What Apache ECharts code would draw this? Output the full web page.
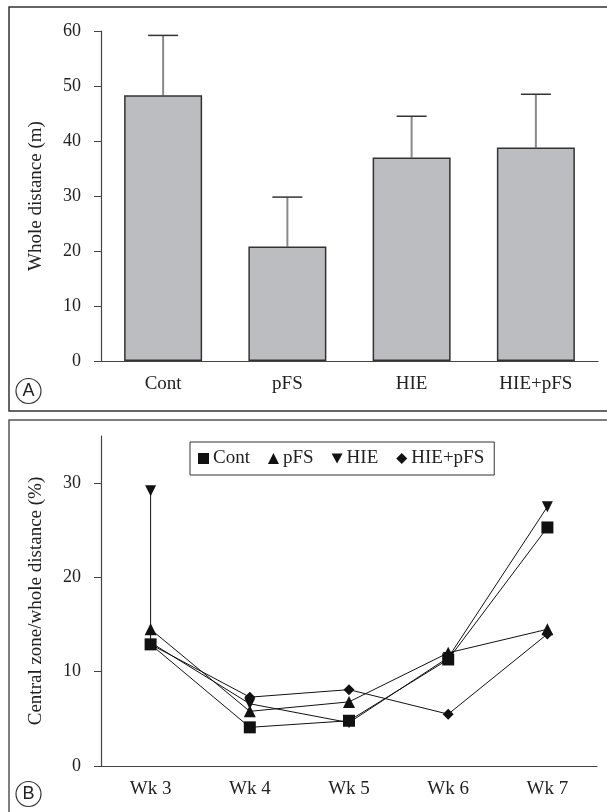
<!DOCTYPE html>
<html>
<head>
<meta charset="utf-8">
<script src="https://cdn.jsdelivr.net/npm/echarts@6/dist/echarts.min.js"></script>
<style>html,body{margin:0;padding:0;background:#fff}#c{width:607px;height:812px}</style>
</head>
<body>
<div id="c"></div>
<script>
// Panel A data
const groups = ['Cont', 'pFS', 'HIE', 'HIE+pFS'];
const meanDistance = [48.3, 20.8, 37.0, 38.8];
const errTop = [59.2, 29.8, 44.5, 48.5];
const yTicksA = [0, 10, 20, 30, 40, 50, 60];

// Panel B data
const weeks = ['Wk 3', 'Wk 4', 'Wk 5', 'Wk 6', 'Wk 7'];
const contVals = [12.9, 4.1, 4.8, 11.3, 25.3];
const pfsVals = [14.5, 5.8, 6.8, 12.0, 14.5];
const hieVals = [29.2, 6.6, 4.6, 11.5, 27.5];
const hieWk3Low = 13.1;
const hiePfsVals = [12.9, 7.3, 8.1, 5.5, 14.0];
const yTicksB = [0, 10, 20, 30];

const FONT = 'Liberation Serif';
const txt = '#222';
const axisCol = '#444';

const chart = echarts.init(document.getElementById('c'), null, {renderer: 'canvas'});

const hieData = [['Wk 3', hieVals[0]], {value: ['Wk 3', hieWk3Low], symbol: 'none'}]
  .concat(weeks.slice(1).map((w, i) => [w, hieVals[i + 1]]));

function lineSeries(name, data, symbol, size) {
  return {
    type: 'line', name: name, xAxisIndex: 1, yAxisIndex: 1,
    data: data, symbol: symbol, symbolSize: size,
    lineStyle: {color: '#111', width: 1},
    itemStyle: {color: '#111'},
    showAllSymbol: true, animation: false, z: 3
  };
}
const downTri = 'path://M0,0 L10,0 L5,9 Z';

chart.setOption({
  animation: false,
  textStyle: {fontFamily: FONT},
  grid: [
    {left: 101, right: 9, top: 31, bottom: 812 - 361},
    {left: 101, right: 10, top: 436, bottom: 812 - 766}
  ],
  legend: {
    left: 190, top: 442,
    data: [
      {name: 'Cont', icon: 'rect'},
      {name: 'pFS', icon: 'triangle'},
      {name: 'HIE', icon: downTri},
      {name: 'HIE+pFS', icon: 'diamond'}
    ],
    itemWidth: 11, itemHeight: 11, itemGap: 18,
    padding: [7, 10, 7, 8],
    borderColor: '#333', borderWidth: 1,
    textStyle: {fontFamily: FONT, fontSize: 19, color: txt, padding: [0, 0, 0, -1]},
    selectedMode: false
  },
  xAxis: [
    {
      type: 'category', gridIndex: 0, data: groups,
      axisLine: {lineStyle: {color: axisCol, width: 1.2}},
      axisTick: {alignWithLabel: true, length: 7, lineStyle: {color: '#777', width: 1.5}},
      axisLabel: {fontFamily: FONT, fontSize: 19, color: txt, margin: 14}
    },
    {
      type: 'category', gridIndex: 1, data: weeks,
      axisLine: {lineStyle: {color: axisCol, width: 1.2}},
      axisTick: {alignWithLabel: true, length: 7, lineStyle: {color: '#777', width: 1.5}},
      axisLabel: {fontFamily: FONT, fontSize: 19, color: txt, margin: 14}
    }
  ],
  yAxis: [
    {
      type: 'value', gridIndex: 0, min: 0, max: 60, interval: 10,
      name: 'Whole distance (m)', nameLocation: 'middle', nameGap: 55,
      nameTextStyle: {fontFamily: FONT, fontSize: 19, color: txt},
      axisLine: {show: true, lineStyle: {color: axisCol, width: 1.2}},
      axisTick: {show: true, length: 7, lineStyle: {color: axisCol}},
      splitLine: {show: false},
      axisLabel: {fontFamily: FONT, fontSize: 18, color: txt, margin: 20}
    },
    {
      type: 'value', gridIndex: 1, min: 0, max: 35, interval: 10,
      name: 'Central zone/whole distance (%)', nameLocation: 'middle', nameGap: 55,
      nameTextStyle: {fontFamily: FONT, fontSize: 19, color: txt},
      axisLine: {show: true, lineStyle: {color: axisCol, width: 1.2}},
      axisTick: {show: true, length: 7, lineStyle: {color: axisCol}, customValues: yTicksB},
      splitLine: {show: false},
      axisLabel: {fontFamily: FONT, fontSize: 18, color: txt, margin: 20, customValues: yTicksB}
    }
  ],
  series: [
    {
      type: 'bar', xAxisIndex: 0, yAxisIndex: 0, data: meanDistance,
      barWidth: 78,
      itemStyle: {color: '#bcbdc1', borderColor: '#333', borderWidth: 1.5},
      z: 2
    },
    {
      type: 'custom', xAxisIndex: 0, yAxisIndex: 0,
      data: groups.map((g, i) => [i, meanDistance[i], errTop[i]]),
      renderItem: function (params, api) {
        const base = api.coord([api.value(0), api.value(1)]);
        const top = api.coord([api.value(0), api.value(2)]);
        return {
          type: 'group',
          children: [
            {type: 'line', shape: {x1: base[0], y1: base[1], x2: top[0], y2: top[1]},
             style: {stroke: '#8a8a8a', lineWidth: 2}},
            {type: 'line', shape: {x1: top[0] - 15, y1: top[1], x2: top[0] + 15, y2: top[1]},
             style: {stroke: '#333', lineWidth: 1.5}}
          ]
        };
      },
      z: 1
    },
    lineSeries('Cont', weeks.map((w, i) => [w, contVals[i]]), 'rect', 12),
    lineSeries('pFS', weeks.map((w, i) => [w, pfsVals[i]]), 'triangle', 12),
    lineSeries('HIE', hieData, downTri, 11),
    lineSeries('HIE+pFS', weeks.map((w, i) => [w, hiePfsVals[i]]), 'diamond', 11)
  ],
  graphic: [
    {type: 'rect', shape: {x: 9, y: 7, width: 640, height: 404},
     style: {fill: 'none', stroke: '#333', lineWidth: 1.5}, silent: true},
    {type: 'rect', shape: {x: 9, y: 420, width: 640, height: 420},
     style: {fill: 'none', stroke: '#555', lineWidth: 1.5}, silent: true},
    {type: 'circle', shape: {cx: 28.5, cy: 391, r: 12.5},
     style: {fill: 'none', stroke: '#333', lineWidth: 1.2}},
    {type: 'text', x: 28.5, y: 391,
     style: {text: 'A', fontFamily: 'Liberation Sans', fontSize: 18, fill: '#222',
             align: 'center', verticalAlign: 'middle'}},
    {type: 'circle', shape: {cx: 28.5, cy: 794, r: 12.5},
     style: {fill: 'none', stroke: '#333', lineWidth: 1.2}},
    {type: 'text', x: 28.5, y: 794,
     style: {text: 'B', fontFamily: 'Liberation Sans', fontSize: 18, fill: '#222',
             align: 'center', verticalAlign: 'middle'}}
  ]
});
</script>
</body>
</html>
